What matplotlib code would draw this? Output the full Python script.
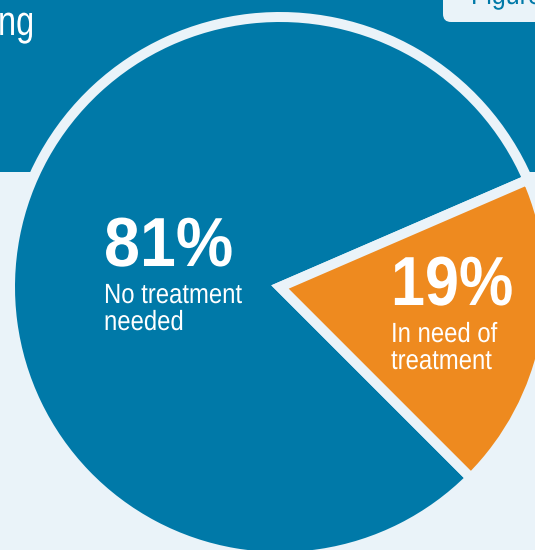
import matplotlib
matplotlib.use("Agg")
import matplotlib.pyplot as plt
from matplotlib.patches import Rectangle, FancyBboxPatch
from matplotlib.patheffects import AbstractPathEffect
from matplotlib.transforms import Affine2D

# data
labels = ["No treatment\nneeded", "In need of\ntreatment"]
shares = [81, 19]

BLUE = "#0079A8"
ORANGE = "#EE8A1F"
LIGHT = "#EAF3F9"
W, H = 535, 550
SANS = ["Liberation Sans", "DejaVu Sans"]


class Condense(AbstractPathEffect):
    """squeeze glyphs horizontally (no condensed font installed)"""

    def __init__(self, sx):
        super().__init__()
        self.sx = sx

    def draw_path(self, renderer, gc, tpath, affine, rgbFace=None):
        renderer.draw_path(gc, tpath, Affine2D().scale(self.sx, 1) + affine, rgbFace)


fig = plt.figure(figsize=(W / 100, H / 100), dpi=100)
fig.patch.set_facecolor(LIGHT)
ax = fig.add_axes([0, 0, 1, 1])

# blue header band + label box cut off at the top
ax.add_patch(Rectangle((0, 378), W, 200, color=BLUE, lw=0, zorder=0))
ax.add_patch(FancyBboxPatch((443, 528), 130, 60,
                            boxstyle="round,pad=0,rounding_size=8",
                            fc=LIGHT, ec="none", zorder=1))
ax.text(471, 546, "Figure", color=BLUE, fontsize=20, family=SANS,
        va="baseline", zorder=2, path_effects=[Condense(0.9)])
ax.text(-2, 515, "ng", color="white", fontsize=30, family=SANS,
        va="baseline", zorder=2, path_effects=[Condense(0.78)])

# pie: orange slice ends at -45 deg
start = -45 - 360 * shares[0] / sum(shares)
ax.pie(shares, colors=[BLUE, ORANGE], startangle=start, counterclock=True,
       center=(280, 263), radius=270, frame=True,
       wedgeprops=dict(edgecolor=LIGHT, linewidth=7.2))
ax.set_xlim(0, W)
ax.set_ylim(0, H)
ax.set_aspect("equal")
ax.axis("off")

pos = [(104, 284, 247), (391, 245, 208)]
big_sx = [0.93, 0.88]
for (x, yb, ys), lab, s, sx in zip(pos, labels, shares, big_sx):
    ax.text(x, yb, f"{s}%", color="white", fontsize=50, fontweight="bold",
            family=SANS, va="baseline", zorder=5, path_effects=[Condense(sx)])
    l1, l2 = lab.split("\n")
    ax.text(x, ys, l1, color="white", fontsize=20, family=SANS,
            va="baseline", zorder=5, path_effects=[Condense(0.86)])
    ax.text(x, ys - 27, l2, color="white", fontsize=20, family=SANS,
            va="baseline", zorder=5, path_effects=[Condense(0.86)])

fig.savefig("out.png", dpi=100, facecolor=LIGHT)
